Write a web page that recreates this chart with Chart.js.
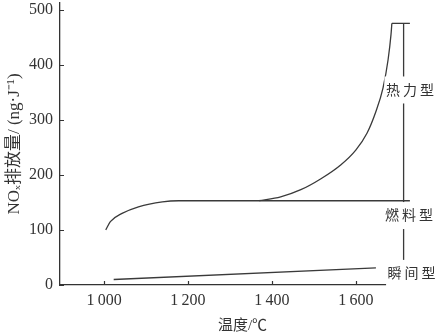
<!DOCTYPE html>
<html>
<head>
<meta charset="utf-8">
<script src="https://cdn.jsdelivr.net/npm/chart.js@4/dist/chart.umd.min.js"></script>
<style>
html,body{margin:0;padding:0;background:#fff;}
#c{display:block;}
</style>
</head>
<body>
<canvas id="c" width="440" height="332"></canvas>
<script>
// ---- data ----
const xTickValues = [1000, 1200, 1400, 1600];
const xTickLabels = ['1\u2009000', '1\u2009200', '1\u2009400', '1\u2009600'];
const yTickValues = [0, 100, 200, 300, 400, 500];

const thermalX = [1369, 1421, 1469, 1517, 1564, 1600, 1627, 1648, 1665, 1677, 1684, 1686];
const thermalY = [153, 160, 173, 193, 218, 245, 276, 315, 358, 409, 455, 475];
const thermalTopX = [1686, 1729];
const thermalTopY = [475, 475];

const fuelX = [1004, 1015, 1043, 1082, 1139, 1178, 1729];
const fuelY = [100, 115, 130, 142, 151, 153, 153];

const promptX = [1023, 1648];
const promptY = [10, 31];

const markerX = [1714, 1714];
const markerY = [475, 42];

const labelNames = ['热力型', '燃料型', '瞬间型'];
const labelX = [1729, 1727, 1733];
const labelY = [355, 127, 22];

const xTitle = '温度/℃';
const yTitle = 'NOₓ排放量/ (ng·J⁻¹)';

// ---- chart ----
const ink = '#333';
const pts = (xs, ys) => xs.map((x, i) => ({x: x, y: ys[i]}));
const lineDs = (data, smooth) => ({
  data: data,
  borderColor: '#3a3a3a',
  borderWidth: 1.3,
  pointRadius: 0,
  fill: false,
  cubicInterpolationMode: smooth ? 'monotone' : 'default',
  tension: 0
});

const decor = {
  id: 'decor',
  afterDatasetsDraw(chart) {
    const ctx = chart.ctx;
    const xs = chart.scales.x, ys = chart.scales.y;
    const ax = chart.chartArea.left, ay = chart.chartArea.bottom;
    ctx.save();
    ctx.strokeStyle = ink;
    ctx.lineWidth = 1.2;
    ctx.beginPath();
    yTickValues.forEach(v => {
      const p = Math.round(ys.getPixelForValue(v)) + 0.5;
      ctx.moveTo(ax, p); ctx.lineTo(ax + 4, p);
    });
    xTickValues.forEach(v => {
      const p = Math.round(xs.getPixelForValue(v)) + 0.5;
      ctx.moveTo(p, ay); ctx.lineTo(p, ay - 4);
    });
    ctx.stroke();
    // curve labels with white backing
    ctx.font = '14px "Noto Sans CJK SC"';
    ctx.textBaseline = 'middle';
    ctx.textAlign = 'center';
    const pitch = 17;
    labelNames.forEach((t, i) => {
      const cx = xs.getPixelForValue(labelX[i]);
      const cy = ys.getPixelForValue(labelY[i]);
      const w = pitch * t.length;
      ctx.fillStyle = '#fff';
      ctx.fillRect(cx - w / 2, cy - 13, w, 27);
      ctx.fillStyle = ink;
      [...t].forEach((ch, k) => {
        ctx.fillText(ch, cx - w / 2 + pitch * (k + 0.5), cy);
      });
    });
    ctx.restore();
  }
};

new Chart(document.getElementById('c'), {
  type: 'line',
  data: {
    datasets: [
      lineDs(pts(thermalX, thermalY), true),
      lineDs(pts(thermalTopX, thermalTopY), false),
      lineDs(pts(fuelX, fuelY), true),
      lineDs(pts(promptX, promptY), false),
      lineDs(pts(markerX, markerY), false)
    ]
  },
  options: {
    responsive: false,
    animation: false,
    devicePixelRatio: 1,
    layout: {padding: {top: 3, right: 15, left: 0, bottom: 0}},
    plugins: {legend: {display: false}, tooltip: {enabled: false}},
    scales: {
      x: {
        type: 'linear',
        min: 895,
        max: 1765,
        afterBuildTicks: s => { s.ticks = xTickValues.map(v => ({value: v})); },
        afterFit: s => { s.height = 47; s.paddingLeft = 0; s.paddingRight = 0; },
        grid: {display: false, drawTicks: false},
        border: {display: true, color: ink, width: 1.3},
        ticks: {
          color: ink,
          padding: 6,
          maxRotation: 0,
          font: {family: '"Liberation Serif"', size: 16},
          callback: (v) => xTickLabels[xTickValues.indexOf(v)]
        },
        title: {
          display: true, text: xTitle, color: ink,
          font: {family: '"Liberation Serif", "Noto Sans CJK SC"', size: 15},
          padding: {top: 0, bottom: -3}
        }
      },
      y: {
        min: 0,
        max: 512,
        afterBuildTicks: s => { s.ticks = yTickValues.map(v => ({value: v})); },
        afterFit: s => { s.width = 60; s.paddingTop = 0; s.paddingBottom = 0; },
        grid: {display: false, drawTicks: false},
        border: {display: true, color: ink, width: 1.3},
        ticks: {
          color: ink,
          padding: 7,
          font: {family: '"Liberation Serif"', size: 16}
        },
        title: {
          display: true, text: yTitle, color: ink,
          font: {family: '"Liberation Serif", "Noto Sans CJK SC"', size: 17},
          padding: {top: 4, bottom: 0}
        }
      }
    }
  },
  plugins: [decor]
});
</script>
</body>
</html>
